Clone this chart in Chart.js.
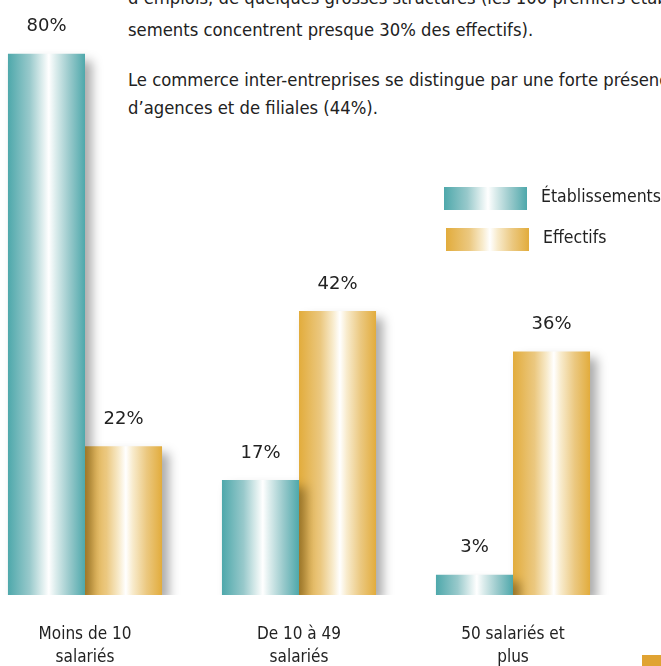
<!DOCTYPE html>
<html>
<head>
<meta charset="utf-8">
<script src="https://cdn.jsdelivr.net/npm/chart.js@4.4.0/dist/chart.umd.min.js"></script>
<style>
  html, body { margin: 0; padding: 0; background: #fff; overflow: hidden; }
  body { width: 661px; height: 666px; position: relative; font-family: "DejaVu Sans Condensed", sans-serif; color: #222; }
  #wrap { position: absolute; left: -22px; top: 0; width: 683px; height: 666px; }
  .para { position: absolute; left: 128px; font-size: 18.3px; white-space: nowrap; }
  #coin { position: absolute; left: 642px; top: 655px; width: 19px; height: 11px; background: #e0a332; }
</style>
</head>
<body>
<div class="para" style="top:-13px">d’emplois, de quelques grosses structures (les 100 premiers établis-</div>
<div class="para" style="top:19px">sements concentrent presque 30% des effectifs).</div>
<div class="para" style="top:69px">Le commerce inter-entreprises se distingue par une forte présence</div>
<div class="para" style="top:97px">d’agences et de filiales (44%).</div>
<div id="wrap"><canvas id="graf"></canvas></div>
<div id="coin"></div>
<script>
// Données du graphique
const categories = [["Moins de 10", "salariés"], ["De 10 à 49", "salariés"], ["50 salariés et", "plus"]];
const etablissements = [80, 17, 3];
const effectifs = [22, 42, 36];
const series = ["Établissements", "Effectifs"];

const couleurs = ["#4ea8ab", "#e2ac3c"];
const moyennes = ["#98c9cb", "#ebc880"];
const claires = ["#dbecec", "#f8ebcc"];
const police = '"DejaVu Sans Condensed", sans-serif';

function degrade(ctx, x0, x1, i) {
  const g = ctx.createLinearGradient(x0, 0, x1, 0);
  g.addColorStop(0, couleurs[i]);
  g.addColorStop(0.28, moyennes[i]);
  g.addColorStop(0.44, claires[i]);
  g.addColorStop(0.53, "#ffffff");
  g.addColorStop(0.62, claires[i]);
  g.addColorStop(0.8, moyennes[i]);
  g.addColorStop(1, couleurs[i]);
  return g;
}

function remplissage(c) {
  const chart = c.chart;
  const i = c.datasetIndex;
  if (!chart.chartArea || c.dataIndex === undefined) return couleurs[i];
  const xs = chart.scales.x;
  const cx = xs.getPixelForValue(c.dataIndex);
  const w = (xs.width / categories.length) * 0.72 / 2;
  const x0 = i === 0 ? cx - w : cx;
  return degrade(chart.ctx, x0, x0 + w, i);
}

// Ombre + étiquettes + légende
const habillage = {
  id: "habillage",
  beforeDatasetsDraw(chart) {
    const ctx = chart.ctx;
    ctx.save();
    ctx.shadowColor = "rgba(0,0,0,0.33)";
    ctx.shadowBlur = 10;
    ctx.shadowOffsetX = 7;
    ctx.shadowOffsetY = 7;
  },
  afterDatasetsDraw(chart) {
    const ctx = chart.ctx;
    ctx.restore();
    ctx.save();
    ctx.fillStyle = "#222";
    ctx.font = '18px "DejaVu Sans", sans-serif';
    ctx.textAlign = "center";
    ctx.textBaseline = "middle";
    chart.data.datasets.forEach((ds, d) => {
      chart.getDatasetMeta(d).data.forEach((bar, j) => {
        ctx.fillText(ds.data[j] + "%", bar.x, bar.y - 27);
      });
    });
    // légende
    const lx = 466, ly = [187, 228];
    ctx.textAlign = "left";
    ctx.font = "17.5px " + police;
    series.forEach((s, i) => {
      const x = lx + (i === 0 ? 0 : 2);
      ctx.fillStyle = degrade(ctx, x, x + 83, i);
      ctx.fillRect(x, ly[i], 83, 23);
      ctx.fillStyle = "#222";
      ctx.fillText(s, x + 97, ly[i] + 10);
    });
    ctx.restore();
  }
};

new Chart(document.getElementById("graf"), {
  type: "bar",
  data: {
    labels: categories,
    datasets: [
      { label: series[0], data: etablissements, backgroundColor: remplissage, borderWidth: 0 },
      { label: series[1], data: effectifs, backgroundColor: remplissage, borderWidth: 0 }
    ]
  },
  options: {
    responsive: true,
    maintainAspectRatio: false,
    animation: false,
    events: [],
    layout: { padding: { top: 20, right: 41, left: 0, bottom: 0 } },
    datasets: { bar: { categoryPercentage: 0.72, barPercentage: 1 } },
    plugins: { legend: { display: false }, tooltip: { enabled: false } },
    scales: {
      x: {
        grid: { display: false, drawTicks: false },
        border: { display: false },
        ticks: { color: "#222", font: { size: 17, family: police, lineHeight: 1.35 }, padding: 28, maxRotation: 0 },
        afterFit: (s) => { s.height = 71; }
      },
      y: {
        display: false,
        min: 0,
        max: 85
      }
    }
  },
  plugins: [habillage]
});
</script>
</body>
</html>
